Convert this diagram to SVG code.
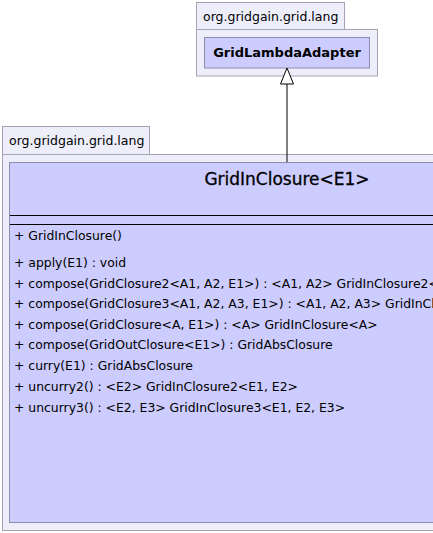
<svg xmlns="http://www.w3.org/2000/svg" width="433" height="533" viewBox="0 0 433 533">
<style>
.pkg{fill:#EEEEFA;stroke:#A4A4B4;stroke-width:1}
.cls{fill:#CCCCFF;stroke:#8C8CAC;stroke-width:1}
.pl{font-family:"DejaVu Sans",sans-serif;font-size:12.5px;fill:#000}
.cn{font-family:"DejaVu Sans",sans-serif;font-size:13px;font-weight:bold;fill:#000}
.ct{font-family:"DejaVu Sans",sans-serif;font-size:17px;fill:#000;stroke:#000;stroke-width:0.3}
.m{font-family:"DejaVu Sans",sans-serif;font-size:12.4px;fill:#000}
.div{stroke:#000;stroke-width:1}
</style>
<g id="pkg-top">
<rect class="pkg" x="196.5" y="2.5" width="148" height="27"/>
<rect class="pkg" x="196.5" y="29.5" width="181" height="46.5"/>
<text class="pl" x="203" y="20.5">org.gridgain.grid.lang</text>
</g>
<g id="GridLambdaAdapter">
<rect class="cls" x="204.5" y="37.5" width="165" height="30.5"/>
<text class="cn" x="287" y="57" text-anchor="middle">GridLambdaAdapter</text>
</g>
<g id="pkg-bottom">
<rect class="pkg" x="2.5" y="126.5" width="147" height="28"/>
<rect class="pkg" x="2.5" y="154.5" width="440" height="376"/>
<text class="pl" x="9" y="145">org.gridgain.grid.lang</text>
</g>
<g id="GridInClosure">
<rect class="cls" x="9.5" y="162.5" width="440" height="360"/>
<text class="ct" x="287" y="185" text-anchor="middle">GridInClosure&lt;E1&gt;</text>
<line class="div" x1="10" y1="215.5" x2="433" y2="215.5"/>
<line class="div" x1="10" y1="224.5" x2="433" y2="224.5"/>
<text class="m" x="14" y="240">+ GridInClosure()</text>
<text class="m" x="14" y="267">+ apply(E1) : void</text>
<text class="m" x="14" y="287.5">+ compose(GridClosure2&lt;A1, A2, E1&gt;) : &lt;A1, A2&gt; GridInClosure2&lt;A1, A2&gt;</text>
<text class="m" x="14" y="308">+ compose(GridClosure3&lt;A1, A2, A3, E1&gt;) : &lt;A1, A2, A3&gt; GridInClosure3&lt;A1, A2, A3&gt;</text>
<text class="m" x="14" y="328.5">+ compose(GridClosure&lt;A, E1&gt;) : &lt;A&gt; GridInClosure&lt;A&gt;</text>
<text class="m" x="14" y="349">+ compose(GridOutClosure&lt;E1&gt;) : GridAbsClosure</text>
<text class="m" x="14" y="369.5">+ curry(E1) : GridAbsClosure</text>
<text class="m" x="14" y="390.5">+ uncurry2() : &lt;E2&gt; GridInClosure2&lt;E1, E2&gt;</text>
<text class="m" x="14" y="411.5">+ uncurry3() : &lt;E2, E3&gt; GridInClosure3&lt;E1, E2, E3&gt;</text>
</g>
<g id="connectors">
<line x1="287" y1="162" x2="287" y2="84" stroke="#000" stroke-width="1"/>
<polygon points="287,68 280.5,84 293.5,84" fill="#fff" stroke="#000" stroke-width="1"/>
</g>
</svg>
